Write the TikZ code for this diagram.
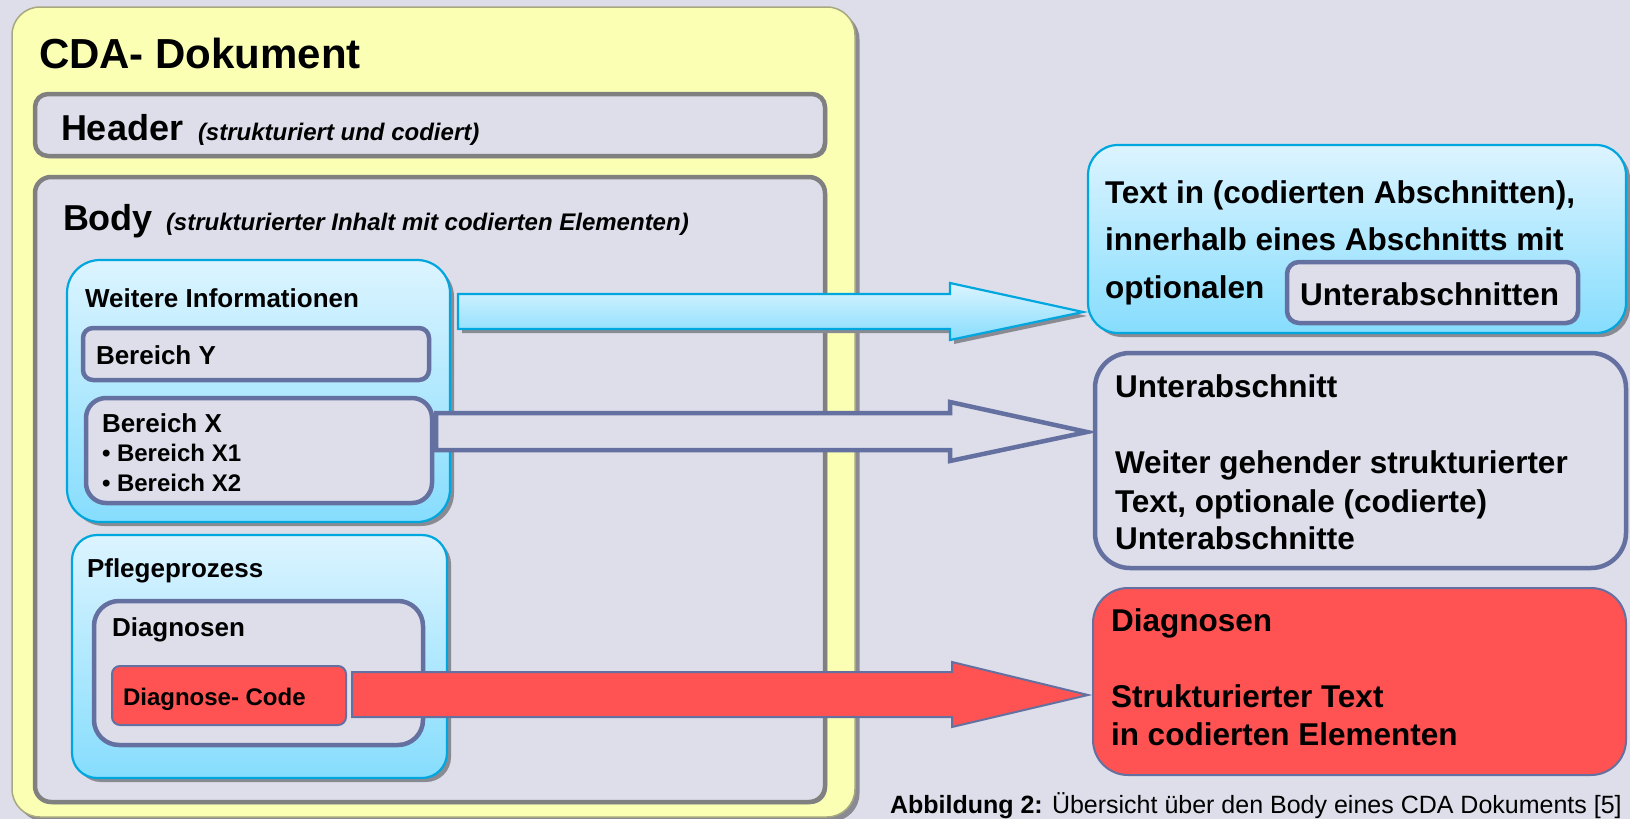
\documentclass[tikz,border=0pt]{standalone}
\usepackage{fontspec}
\setmainfont{Liberation Sans}
\usetikzlibrary{shadows}

\definecolor{bg}{RGB}{221,222,234}
\definecolor{paper}{RGB}{250,255,180}
\definecolor{paperline}{RGB}{168,168,128}
\definecolor{frame}{RGB}{128,128,128}
\definecolor{navy}{RGB}{100,112,160}
\definecolor{sky}{RGB}{0,166,222}
\definecolor{skytop}{RGB}{220,244,255}
\definecolor{skybot}{RGB}{134,221,253}
\definecolor{alert}{RGB}{255,82,82}
\definecolor{shade}{RGB}{138,138,146}

\tikzset{
  x=1pt, y=-1pt,
  card/.style={anchor=north west, inner sep=0pt, outer sep=0pt},
  txt/.style={anchor=base west, inner sep=0pt, outer sep=0pt, text=black},
  sz/.style={font=\fontsize{#1}{#1}\selectfont\bfseries},
  szi/.style={font=\fontsize{#1}{#1}\selectfont\bfseries\itshape},
  szr/.style={font=\fontsize{#1}{#1}\selectfont},
  softshadow/.style={drop shadow={shadow xshift=#1, shadow yshift=-#1, fill=shade, opacity=1}},
  docbox/.style={card, fill=paper, draw=paperline, line width=1.5pt, rounded corners=28pt, softshadow=4.5pt},
  graybox/.style={card, fill=bg, draw=frame, line width=4.5pt, softshadow=2pt},
  skybox/.style={card, top color=skytop, bottom color=skybot, draw=sky, line width=2.2pt, softshadow=4pt},
  navybox/.style={card, fill=bg, draw=navy, line width=4.5pt},
  redbox/.style={card, fill=alert, draw=navy, line width=2pt},
  skyarrow/.style={top color=skytop, bottom color=skybot, draw=sky, line width=2.2pt, softshadow=4pt},
  navyarrow/.style={fill=bg, draw=navy, line width=4.5pt},
  redarrow/.style={fill=alert, draw=navy, line width=2pt},
}

\begin{document}
\begin{tikzpicture}
\useasboundingbox (0,0) rectangle (1630,819);
\fill[bg] (0,0) rectangle (1630,819);

% ---------- the CDA document ----------
\node[docbox, minimum width=843pt, minimum height=810pt] (doc) at (12,7) {};
\node[txt, sz=42] (title) at (39,68) {CDA- Dokument};

\node[graybox, rounded corners=13pt, minimum width=790pt, minimum height=62pt] (header) at (35,94) {};
\node[txt, sz=36] (hdr) at (61,140) {Header};
\node[txt, szi=24] (hdrnote) at (198,140) {(strukturiert und codiert)};

\node[graybox, rounded corners=16pt, minimum width=790pt, minimum height=625pt] (body) at (35,177) {};
\node[txt, sz=36] (bdy) at (63,230) {Body};
\node[txt, szi=24] (bdynote) at (166,230) {(strukturierter Inhalt mit codierten Elementen)};

% further information section
\node[skybox, rounded corners=33pt, minimum width=383pt, minimum height=262pt] (wi) at (67,260) {};
\node[txt, sz=26] (wit) at (85,307) {Weitere Informationen};
\node[navybox, rounded corners=10pt, minimum width=346pt, minimum height=52pt] (by) at (83,328) {};
\node[txt, sz=26] (byt) at (96,364) {Bereich Y};
\node[navybox, rounded corners=20pt, minimum width=346pt, minimum height=105pt] (bx) at (86,398) {};
\node[txt, sz=26] (bxt) at (102,432) {Bereich X};
\node[txt, sz=24] (bx1) at (102,461) {• Bereich X1};
\node[txt, sz=24] (bx2) at (102,491) {• Bereich X2};

% care process section
\node[skybox, rounded corners=25pt, minimum width=375pt, minimum height=243pt] (pf) at (72,535) {};
\node[txt, sz=26] (pft) at (87,577) {Pflegeprozess};
\node[navybox, rounded corners=25pt, minimum width=329pt, minimum height=144pt] (dg) at (94,601) {};
\node[txt, sz=26] (dgt) at (112,636) {Diagnosen};
\node[redbox, rounded corners=8pt, minimum width=234pt, minimum height=59pt] (dc) at (112,666) {};
\node[txt, sz=24] (dct) at (123,705) {Diagnose- Code};

% ---------- explanations on the right ----------
\node[skybox, rounded corners=30pt, minimum width=538pt, minimum height=188pt] (tb) at (1088,145) {};
\node[txt, sz=31.5] (tb1) at (1105,203) {Text in (codierten Abschnitten),};
\node[txt, sz=31.5] (tb2) at (1105,250) {innerhalb eines Abschnitts mit};
\node[txt, sz=31.5] (tb3) at (1105,298) {optionalen};
\node[navybox, rounded corners=12pt, minimum width=291pt, minimum height=61pt] (ub) at (1287,262) {};
\node[txt, sz=31.5] (ubt) at (1300,305) {Unterabschnitten};

\node[navybox, rounded corners=35pt, minimum width=531pt, minimum height=215pt] (sb) at (1095,353) {};
\node[txt, sz=31.5] (sb1) at (1115,397) {Unterabschnitt};
\node[txt, sz=31.5] (sb2) at (1115,473) {Weiter gehender strukturierter};
\node[txt, sz=31.5] (sb3) at (1115,512) {Text, optionale (codierte)};
\node[txt, sz=31.5] (sb4) at (1115,549) {Unterabschnitte};

\node[redbox, rounded corners=35pt, minimum width=533pt, minimum height=187pt] (rb) at (1093,588) {};
\node[txt, sz=31.5] (rb1) at (1111,631) {Diagnosen};
\node[txt, sz=31.5] (rb2) at (1111,707) {Strukturierter Text};
\node[txt, sz=31.5] (rb3) at (1111,745) {in codierten Elementen};

% ---------- block arrows from the sections to their explanations ----------
\coordinate (a1s) at (458,294);
\coordinate (a1e) at (1083,312);
\draw[skyarrow] (a1s) -- ++(492,0) -- ++(0,-11) -- (a1e) -- ++(-133,28) -- ++(0,-11) -- ++(-492,0) -- cycle;

\coordinate (a2s) at (436,413);
\coordinate (a2e) at (1087,432);
\draw[navyarrow] (a2s) -- ++(514,0) -- ++(0,-11) -- (a2e) -- ++(-137,29) -- ++(0,-11) -- ++(-514,0) -- cycle;

\coordinate (a3s) at (352,672);
\coordinate (a3e) at (1088,695);
\draw[redarrow] (a3s) -- ++(600,0) -- ++(0,-10) -- (a3e) -- ++(-136,32) -- ++(0,-10) -- ++(-600,0) -- cycle;

% ---------- caption ----------
\node[txt, szr=25] (cap) at (890,813) {\textbf{Abbildung 2:} Übersicht über den Body eines CDA Dokuments [5]};
\end{tikzpicture}
\end{document}
